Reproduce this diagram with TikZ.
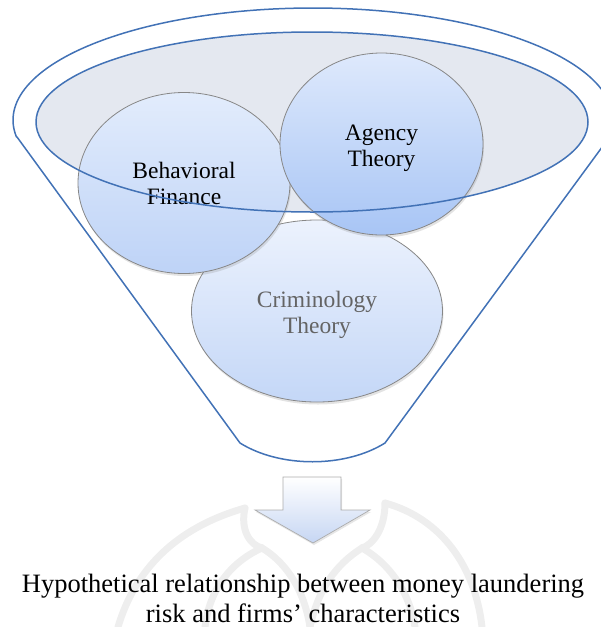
\documentclass[tikz,border=0pt]{standalone}
\usepackage{fontspec}
\setmainfont{Liberation Serif}
\usetikzlibrary{shapes.geometric,shadows}
\definecolor{funnelblue}{RGB}{66,114,182}
\definecolor{bowlfill}{RGB}{228,232,240}
\definecolor{ringline}{RGB}{135,135,135}
\definecolor{markgray}{RGB}{238,238,238}
\definecolor{greytext}{RGB}{100,100,100}
\definecolor{crimtop}{RGB}{236,242,253}
\definecolor{crimbot}{RGB}{196,215,247}
\definecolor{behavtop}{RGB}{226,236,252}
\definecolor{behavbot}{RGB}{190,211,247}
\definecolor{agencytop}{RGB}{222,233,252}
\definecolor{agencybot}{RGB}{168,197,245}
\definecolor{arrowbot}{RGB}{198,214,243}
\begin{document}
\begin{tikzpicture}[x=1pt,y=-1pt,
  funnel/.style={draw=funnelblue,line width=1.5pt,line join=round},
  bubble/.style={ellipse,draw=ringline,line width=0.8pt,inner sep=0pt,
    drop shadow={shadow xshift=1pt,shadow yshift=-2.5pt,opacity=0.22}},
  bubbletext/.style={align=center,inner sep=0pt,font=\fontsize{23.5}{26}\selectfont},
  watermark/.style={draw=markgray,line width=7pt,line cap=round}]
\useasboundingbox (0,0) rectangle (601,627);
\clip (0,0) rectangle (601,627);

% faint logo behind the caption
\draw[watermark] (118,627) .. controls (135,570) and (175,528) .. (245,508);
\draw[watermark] (385,503) .. controls (440,518) and (475,565) .. (482,627);
\draw[watermark] (205,627) .. controls (210,585) and (235,560) .. (262,548)
  .. controls (290,565) and (305,595) .. (310,627);
\draw[watermark] (310,627) .. controls (318,590) and (335,565) .. (362,548)
  .. controls (392,565) and (410,595) .. (415,627);
\draw[watermark] (245,508) .. controls (240,530) and (250,545) .. (262,548);
\draw[watermark] (385,503) .. controls (385,530) and (372,545) .. (362,548);

% outer funnel
\draw[funnel] (240,443) -- (17,137)
  -- plot[domain=188.7:-8.7,samples=120] ({313+300*cos(\x)},{120-112*sin(\x)})
  -- (385,443) .. controls (345,468) and (280,468) .. (240,443) -- cycle;

% mouth of the funnel
\coordinate (mouth) at (312,122);
\fill[bowlfill] (mouth) ellipse [x radius=276pt, y radius=90pt];

% the three theories
\node[bubble,minimum width=251pt,minimum height=182pt,
      top color=crimtop,bottom color=crimbot] (crim) at (317,311) {};
\node[bubble,minimum width=212pt,minimum height=181pt,
      top color=behavtop,bottom color=behavbot] (behav) at (184,183) {};
\node[bubble,minimum width=203pt,minimum height=182pt,
      top color=agencytop,bottom color=agencybot] (agency) at (381.5,144) {};

\node[bubbletext,text=greytext] (crimlabel) at ([yshift=-3.5pt]crim.center) {Criminology\\Theory};
\node[bubbletext] (behavlabel) at (behav.center) {Behavioral\\Finance};
\node[bubbletext] (agencylabel) at ([yshift=-4pt]agency.center) {Agency\\Theory};

% rim of the mouth drawn over the bubbles
\draw[funnel] (mouth) ellipse [x radius=276pt, y radius=90pt];

% down arrow
\draw[draw=gray!65,line width=0.7pt,top color=white,bottom color=arrowbot,
      drop shadow={shadow xshift=1pt,shadow yshift=-2pt,opacity=0.2}]
  (283,477) -- (341,477) -- (341,510) -- (370,510) -- (313,543) -- (255,510) -- (283,510) -- cycle;

% outcome
\node[align=center,font=\fontsize{26.5}{30}\selectfont,inner sep=0pt] (result) at (303,598)
  {Hypothetical relationship between money laundering\\risk and firms’ characteristics};
\end{tikzpicture}
\end{document}
